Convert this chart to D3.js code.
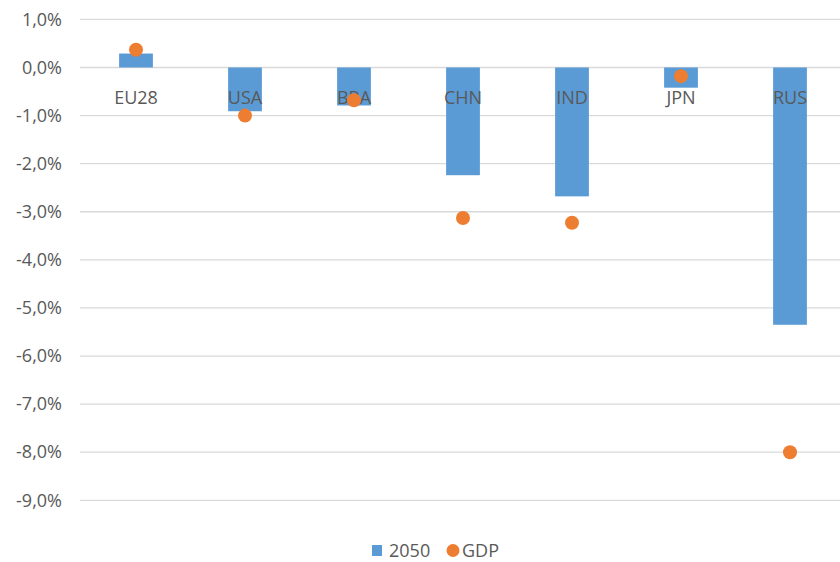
<!DOCTYPE html>
<html><head><meta charset="utf-8">
<script src="https://cdn.jsdelivr.net/npm/d3@7"></script>
<style>body{margin:0;background:#fff}svg{display:block}</style>
</head><body>
<svg id="c" width="840" height="562"></svg>
<script>
const categories = ["EU28","USA","BRA","CHN","IND","JPN","RUS"];
const values2050 = [0.29,-0.91,-0.79,-2.24,-2.68,-0.42,-5.35];
const valuesGDP = [0.37,-1.00,-0.68,-3.13,-3.23,-0.18,-8.00];
const yTicks = [1,0,-1,-2,-3,-4,-5,-6,-7,-8,-9];
const seriesNames = ["2050","GDP"];

const svg = d3.select("#c");
const font = "'Open Sans', 'Noto Sans', sans-serif";
const fs = "18px";
const textColor = "#595959";
const blue = "#5B9BD5", orange = "#ED7D31";

const y = d3.scaleLinear().domain([1,-9]).range([19.4,500.3]);
const x = d3.scaleBand().domain(categories).range([81.5,844.5]).paddingInner(0.69).paddingOuter(0.345);

// gridlines
svg.append("g").selectAll("line").data(yTicks).join("line")
  .attr("x1",80).attr("x2",840)
  .attr("y1",d=>y(d)).attr("y2",d=>y(d))
  .attr("stroke","#D9D9D9").attr("stroke-width",1.3);

// y axis labels
const fmt = d => d3.format(".1f")(d).replace(".",",").replace("−","-") + "%";
const yAxis = d3.axisLeft(y).tickValues(yTicks).tickSize(0).tickPadding(0).tickFormat(fmt);
const ga = svg.append("g").attr("transform","translate(62,0)").call(yAxis);
ga.select(".domain").remove();
ga.selectAll("text").attr("fill",textColor).style("font-family",font).style("font-size",fs);

// bars
svg.append("g").selectAll("rect").data(categories).join("rect")
  .attr("x",d=>x(d)).attr("width",x.bandwidth())
  .attr("y",(d,i)=>Math.min(y(values2050[i]),y(0)))
  .attr("height",(d,i)=>Math.abs(y(values2050[i])-y(0)))
  .attr("fill",blue);

// category labels
svg.append("g").selectAll("text").data(categories).join("text")
  .attr("x",d=>x(d)+x.bandwidth()/2).attr("y",104)
  .attr("text-anchor","middle").attr("fill",textColor)
  .style("font-family",font).style("font-size",fs)
  .text(d=>d);

// dots
svg.append("g").selectAll("circle").data(categories).join("circle")
  .attr("cx",d=>x(d)+x.bandwidth()/2)
  .attr("cy",(d,i)=>y(valuesGDP[i]))
  .attr("r",7).attr("fill",orange);

// legend
const lg = svg.append("g");
lg.append("rect").attr("x",372).attr("y",545).attr("width",10).attr("height",11).attr("fill",blue);
lg.append("text").attr("x",389).attr("y",557).attr("fill",textColor)
  .style("font-family",font).style("font-size",fs).text(seriesNames[0]);
lg.append("circle").attr("cx",453).attr("cy",550.5).attr("r",6.5).attr("fill",orange);
lg.append("text").attr("x",462).attr("y",557).attr("fill",textColor)
  .style("font-family",font).style("font-size",fs).text(seriesNames[1]);
</script>
</body></html>
